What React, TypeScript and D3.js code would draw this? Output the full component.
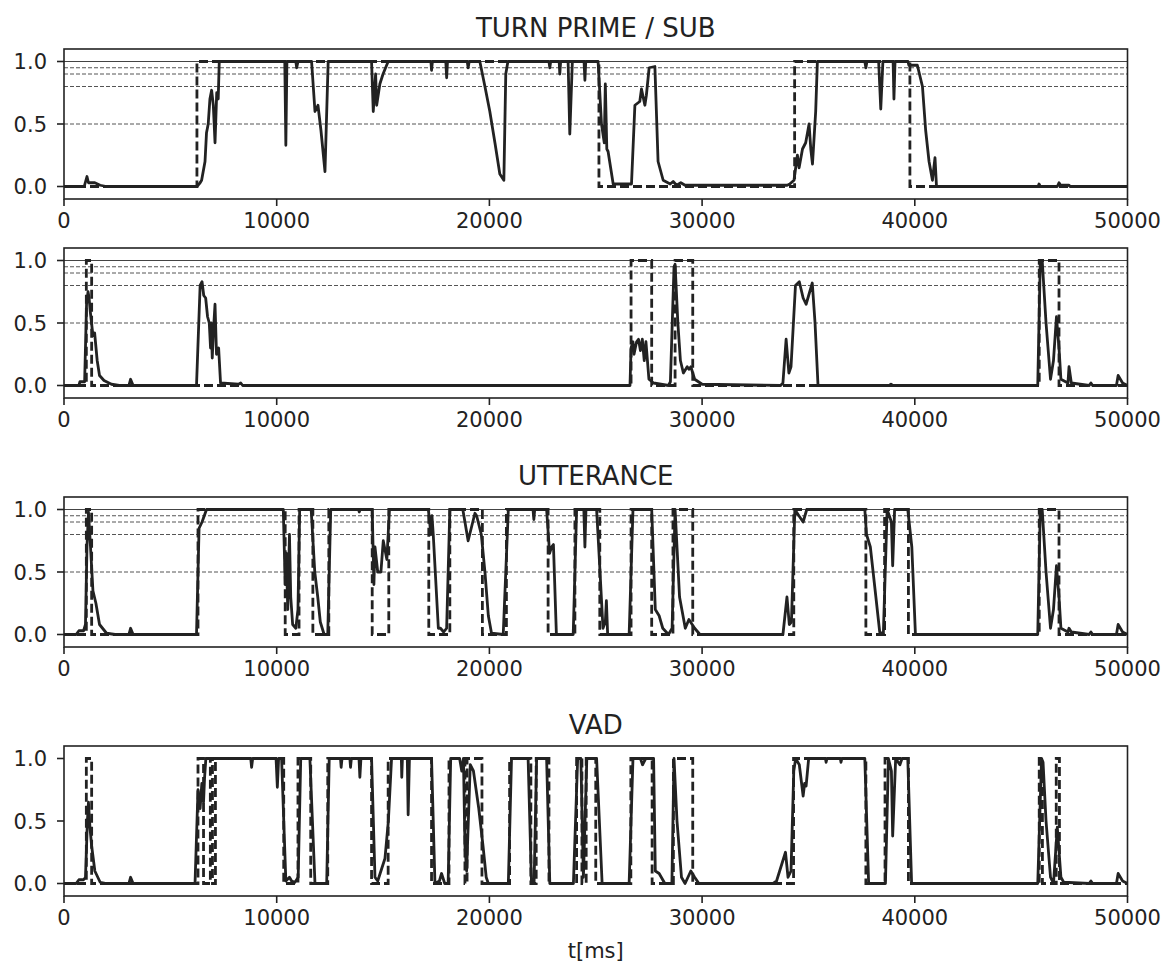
import React from "react";
import * as d3 from "d3";

// ---- data ----
const xTicks = [0, 10000, 20000, 30000, 40000, 50000];
const yTicks = [0, 0.5, 1.0];
const dashedLevels = [0.5, 0.8, 0.9, 0.95];
const solidLevels = [1.0];

// TURN PRIME: prediction (solid) and ground-truth "on" intervals (dashed)
const turnPred: [number, number][] = [
  [0, 0], [950, 0], [1080, 0.08], [1150, 0.03], [1450, 0.03], [1700, 0.01], [2000, 0],
  [6250, 0], [6400, 0.03], [6470, 0.05], [6630, 0.2], [6700, 0.43], [6780, 0.5], [6860, 0.7],
  [6940, 0.77], [7020, 0.65], [7100, 0.35], [7180, 0.75], [7250, 0.7], [7300, 1.0],
  [10380, 1.0], [10430, 0.33], [10480, 1.0], [10900, 1.0], [10940, 0.95], [11000, 1.0],
  [11640, 1.0], [11800, 0.6], [11940, 0.65], [12080, 0.45], [12270, 0.12], [12420, 1.0],
  [14460, 1.0], [14540, 0.6], [14650, 0.9], [14700, 0.65], [14850, 0.82], [15000, 0.9], [15240, 1.0],
  [17250, 1.0], [17280, 0.93], [17320, 1.0], [17950, 1.0], [17990, 0.87], [18030, 1.0],
  [18960, 1.0], [19000, 0.95], [19050, 1.0], [19550, 1.0], [19790, 0.8], [20020, 0.6],
  [20260, 0.35], [20490, 0.1], [20680, 0.05], [20770, 0.9], [20870, 1.0],
  [22800, 1.0], [22840, 0.95], [22880, 1.0], [23280, 1.0], [23310, 0.9], [23350, 1.0],
  [23700, 1.0], [23780, 0.42], [23900, 1.0], [24450, 1.0], [24490, 0.85], [24530, 1.0],
  [25110, 1.0], [25270, 0.5], [25400, 0.35], [25450, 0.82], [25520, 0.3], [25580, 0.28],
  [25820, 0.02], [26680, 0.02], [26840, 0.65], [27070, 0.68], [27150, 0.78], [27310, 0.65],
  [27380, 0.73], [27510, 0.95], [27780, 0.96], [27930, 0.2], [28170, 0.05], [28500, 0.02],
  [28640, 0.04], [28800, 0.01], [29000, 0.03], [29200, 0.01], [34000, 0.01], [34120, 0.02],
  [34320, 0.05], [34480, 0.25], [34560, 0.15], [34720, 0.3], [34870, 0.35], [35030, 0.5],
  [35110, 0.3], [35190, 0.18], [35340, 0.6], [35420, 1.0], [37650, 1.0], [37700, 0.95],
  [37750, 1.0], [38300, 1.0], [38400, 0.62], [38500, 1.0], [38980, 1.0], [39020, 0.7],
  [39070, 1.0], [39680, 1.0], [39720, 0.97], [40120, 0.97], [40360, 0.8], [40510, 0.45],
  [40670, 0.2], [40830, 0.05], [40950, 0.23], [41020, 0], [45800, 0], [45840, 0.02],
  [45900, 0], [46700, 0], [46780, 0.03], [46850, 0.01], [47250, 0.01], [47300, 0], [50000, 0],
];
const turnTruth: [number, number][] = [[6250, 25150], [34350, 39770]];

// SUB
const subPred: [number, number][] = [
  [0, 0], [700, 0], [750, 0.03], [970, 0.03], [1060, 0.65], [1130, 0.75], [1180, 0.7],
  [1230, 0.6], [1360, 0.4], [1440, 0.42], [1560, 0.2], [1670, 0.08], [1880, 0.04],
  [2230, 0.01], [2600, 0], [3050, 0], [3130, 0.05], [3250, 0], [6230, 0], [6400, 0.8],
  [6490, 0.83], [6570, 0.72], [6660, 0.7], [6750, 0.55], [6830, 0.5], [6890, 0.3],
  [6920, 0.5], [6970, 0.22], [7030, 0.45], [7100, 0.65], [7170, 0.25], [7270, 0.3],
  [7360, 0.02], [8200, 0.01], [8310, 0.02], [8400, 0], [26610, 0], [26660, 0.3],
  [26750, 0.35], [26800, 0.25], [26920, 0.35], [27010, 0.37], [27100, 0.28], [27190, 0.37],
  [27280, 0.2], [27360, 0.35], [27500, 0.05], [27720, 0.02], [28420, 0], [28510, 0.03],
  [28680, 0.95], [28730, 0.97], [28860, 0.5], [28980, 0.2], [29120, 0.1], [29300, 0.15],
  [29380, 0.13], [29470, 0.15], [29650, 0.05], [30000, 0.01], [33690, 0], [33800, 0.02],
  [33950, 0.37], [34080, 0.1], [34180, 0.15], [34390, 0.8], [34570, 0.83], [34750, 0.7],
  [34890, 0.65], [35180, 0.82], [35310, 0.5], [35450, 0], [38800, 0], [38880, 0.01],
  [38960, 0], [45780, 0], [45900, 1.0], [45990, 1.0], [46170, 0.5], [46380, 0.05],
  [46520, 0.2], [46660, 0.55], [46780, 0.3], [46870, 0.05], [47200, 0.02], [47250, 0.15],
  [47360, 0.02], [48200, 0], [48280, 0.02], [48360, 0], [49480, 0], [49560, 0.08],
  [49770, 0.02], [50000, 0],
];
const subTruth: [number, number][] = [[1050, 1300], [26660, 27630], [28730, 29560], [45850, 46780]];

// UTTERANCE
const uttPred: [number, number][] = [
  [0, 0], [570, 0], [700, 0.03], [920, 0.03], [1010, 0.08], [1080, 0.7], [1150, 0.98],
  [1230, 0.75], [1360, 0.35], [1500, 0.25], [1670, 0.08], [2000, 0.01], [2400, 0],
  [3050, 0], [3130, 0.05], [3250, 0], [6230, 0], [6350, 0.85], [6490, 0.9], [6700, 1.0],
  [10310, 1.0], [10400, 0.4], [10450, 0.65], [10520, 0.2], [10600, 0.8], [10660, 0.3],
  [10750, 0.08], [10900, 0.05], [11000, 0.2], [11080, 1.0], [11620, 1.0], [11790, 0.5],
  [11930, 0.3], [12050, 0.1], [12230, 0], [12400, 0], [12540, 1.0], [13850, 1.0],
  [13880, 0.98], [13920, 1.0], [14490, 1.0], [14570, 0.4], [14620, 0.7], [14750, 0.5],
  [14900, 0.5], [15010, 0.75], [15180, 0.6], [15300, 1.0], [17130, 1.0], [17250, 0.8],
  [17300, 0.95], [17360, 0.8], [17600, 0.05], [17700, 0.05], [17850, 0.02], [17990, 0.05],
  [18140, 1.0], [18750, 1.0], [19000, 0.75], [19320, 0.97], [19400, 0.95], [19620, 0.8],
  [19790, 0.5], [19950, 0.15], [20100, 0.01], [20650, 0], [20890, 1.0], [22050, 1.0],
  [22090, 0.92], [22130, 1.0], [22690, 1.0], [22830, 0.65], [22920, 0.7], [23010, 0.72],
  [23150, 0], [23940, 0], [24100, 1.0], [24440, 1.0], [24490, 0.7], [24540, 1.0],
  [25040, 1.0], [25170, 0.6], [25340, 0.05], [25450, 0.1], [25500, 0.27], [25560, 0],
  [26570, 0], [26750, 1.0], [27630, 1.0], [27800, 0.2], [27980, 0.15], [28150, 0.05],
  [28420, 0], [28590, 0.05], [28730, 1.0], [28940, 0.3], [29210, 0.05], [29380, 0.12],
  [29650, 0.05], [29900, 0], [33800, 0], [33990, 0.3], [34100, 0.08], [34200, 0.1],
  [34360, 1.0], [34550, 0.95], [34750, 0.9], [34920, 1.0], [37650, 1.0], [37730, 0.8],
  [37910, 0.7], [38170, 0.3], [38350, 0.02], [38520, 0], [38700, 1.0], [38900, 0.9],
  [38960, 0.55], [39050, 1.0], [39670, 1.0], [39860, 0.7], [40030, 0], [45780, 0],
  [45900, 1.0], [45990, 1.0], [46170, 0.5], [46380, 0.05], [46520, 0.2], [46660, 0.55],
  [46780, 0.3], [46870, 0.05], [47200, 0.02], [47250, 0.05], [47360, 0.02], [48200, 0],
  [48280, 0.02], [48360, 0], [49480, 0], [49560, 0.08], [49770, 0.02], [50000, 0],
];
const uttTruth: [number, number][] = [
  [1050, 1300], [6300, 10400], [11050, 11700], [12450, 14490], [15270, 17150],
  [18140, 19670], [20800, 22760], [24020, 25190], [26660, 27630], [28630, 29560],
  [34310, 37700], [38580, 39700], [45850, 46780],
];

// VAD
const vadPred: [number, number][] = [
  [0, 0], [570, 0], [700, 0.03], [920, 0.03], [1010, 0.05], [1100, 0.5], [1150, 0.65],
  [1220, 0.45], [1300, 0.3], [1450, 0.1], [1700, 0.01], [2000, 0], [3050, 0], [3130, 0.05],
  [3250, 0], [6160, 0], [6300, 0.75], [6400, 0.6], [6480, 0.8], [6560, 0.65], [6610, 0.85],
  [6670, 1.0], [8780, 1.0], [8820, 0.93], [8870, 1.0], [9970, 1.0], [10030, 0.77],
  [10090, 1.0], [10230, 1.0], [10430, 0.02], [10600, 0.05], [10700, 0.02], [10860, 0.01],
  [11010, 0.05], [11130, 1.0], [11560, 1.0], [11800, 0], [12350, 0], [12470, 1.0],
  [13000, 1.0], [13030, 0.93], [13070, 1.0], [13440, 1.0], [13470, 0.93], [13510, 1.0],
  [13870, 1.0], [13910, 0.85], [13960, 1.0], [14460, 1.0], [14620, 0.05], [14750, 0.02],
  [14900, 0.1], [15090, 0.2], [15250, 0.5], [15400, 1.0], [15860, 1.0], [15880, 0.85],
  [15910, 1.0], [16140, 1.0], [16180, 0.55], [16240, 1.0], [17280, 1.0], [17440, 0],
  [17650, 0.02], [17750, 0.08], [17900, 0], [18060, 0], [18180, 1.0], [18600, 1.0],
  [18700, 0.9], [18780, 1.0], [18850, 0.3], [18930, 0.1], [19100, 0.95], [19250, 0.9],
  [19500, 0.6], [19700, 0.3], [19850, 0.05], [19950, 0], [20890, 0], [21040, 1.0],
  [21820, 1.0], [21980, 0], [22100, 0], [22220, 1.0], [22690, 1.0], [22840, 0],
  [23950, 0], [24150, 1.0], [24300, 1.0], [24420, 0.05], [24580, 1.0], [25040, 1.0],
  [25300, 0], [26570, 0], [26750, 1.0], [27100, 1.0], [27200, 0.95], [27350, 1.0],
  [27720, 1.0], [27800, 0.1], [27980, 0.08], [28250, 0], [28580, 0], [28680, 1.0],
  [28820, 0.5], [29030, 0.05], [29200, 0], [29470, 0.1], [29650, 0.05], [29850, 0],
  [33340, 0], [33500, 0.02], [33920, 0.25], [34040, 0.05], [34180, 0.1], [34310, 0.9],
  [34400, 1.0], [34570, 0.95], [34750, 0.7], [34820, 0.8], [34890, 0.78], [35010, 1.0],
  [35800, 1.0], [35830, 0.97], [35870, 1.0], [36500, 1.0], [36530, 0.97], [36570, 1.0],
  [37650, 1.0], [37830, 0], [38620, 0], [38760, 1.0], [38900, 0.9], [38960, 0.38],
  [39100, 1.0], [39300, 0.95], [39400, 1.0], [39670, 1.0], [39850, 0], [45780, 0],
  [45960, 1.0], [46030, 0.97], [46170, 0.5], [46380, 0.05], [46520, 0], [46700, 0.45],
  [46870, 0.05], [47000, 0.01], [48200, 0], [48280, 0.02], [48360, 0], [49480, 0],
  [49560, 0.08], [49770, 0.02], [50000, 0],
];
const vadTruth: [number, number][] = [
  [1050, 1300], [6300, 6560], [6880, 6980], [7120, 10330], [11000, 11600], [12400, 14460],
  [15240, 17280], [18100, 18850], [18950, 19650], [20950, 21950], [22200, 22800],
  [24100, 24350], [24550, 25000], [26650, 27650], [28650, 29560], [34300, 37700],
  [38600, 39700], [45850, 46000], [46650, 46800],
];

const titles = ["TURN PRIME / SUB", "", "UTTERANCE", "VAD"];
const preds = [turnPred, subPred, uttPred, vadPred];
const truths = [turnTruth, subTruth, uttTruth, vadTruth];
const showRefs = [true, true, true, false];

// ---- layout ----
const W = 1166;
const H = 965;
const left = 64;
const right = 1127.5;
const panelTops = [49, 248, 497, 746];
const panelH = 150;
const ink = "#222222";
const font = "DejaVu Sans, sans-serif";

// turn on/off intervals into a step series
function stepSeries(segs: [number, number][]): [number, number][] {
  const pts: [number, number][] = [[0, 0]];
  segs.forEach(([s, e]) => {
    pts.push([s, 0], [s, 1], [e, 1], [e, 0]);
  });
  pts.push([50000, 0]);
  return pts;
}

function Panel({ idx }: { idx: number }) {
  const top = panelTops[idx];
  const x = d3.scaleLinear().domain([0, 50000]).range([left, right]);
  const y = d3.scaleLinear().domain([-0.1, 1.1]).range([top + panelH, top]);
  const line = d3
    .line<[number, number]>()
    .x((d) => x(d[0]))
    .y((d) => y(d[1]));

  const bottom = top + panelH;
  return (
    <g>
      {titles[idx] && (
        <text x={(left + right) / 2} y={top - 12} textAnchor="middle" fontSize={26} fill={ink}>
          {titles[idx]}
        </text>
      )}
      {showRefs[idx] &&
        dashedLevels.map((v) => (
          <line key={"d" + v} x1={left} x2={right} y1={y(v)} y2={y(v)}
            stroke="#555" strokeWidth={1} strokeDasharray="4 2" />
        ))}
      {showRefs[idx] &&
        solidLevels.map((v) => (
          <line key={"s" + v} x1={left} x2={right} y1={y(v)} y2={y(v)} stroke="#444" strokeWidth={1} />
        ))}
      <path d={line(preds[idx]) || ""} fill="none" stroke={ink} strokeWidth={2.8} strokeLinejoin="round" />
      <path d={line(stepSeries(truths[idx])) || ""} fill="none" stroke={ink} strokeWidth={2.8}
        strokeDasharray="9 4" />
      <rect x={left} y={top} width={right - left} height={panelH} fill="none" stroke={ink} strokeWidth={1.6} />
      {xTicks.map((t) => (
        <g key={"x" + t}>
          <line x1={x(t)} x2={x(t)} y1={bottom} y2={bottom + 7} stroke={ink} strokeWidth={1.6} />
          <text x={x(t)} y={bottom + 29} textAnchor="middle" fontSize={21} fill={ink}>
            {t}
          </text>
        </g>
      ))}
      {yTicks.map((v) => (
        <g key={"y" + v}>
          <line x1={left - 7} x2={left} y1={y(v)} y2={y(v)} stroke={ink} strokeWidth={1.6} />
          <text x={left - 17} y={y(v) + 7.5} textAnchor="end" fontSize={21} fill={ink}>
            {v.toFixed(1)}
          </text>
        </g>
      ))}
    </g>
  );
}

export default function App() {
  return (
    <svg width={W} height={H} style={{ position: "absolute", left: 0, top: 0, background: "#fff" }}
      fontFamily={font}>
      <rect width={W} height={H} fill="#fff" />
      {panelTops.map((_, i) => (
        <Panel key={i} idx={i} />
      ))}
      <text x={(left + right) / 2} y={958} textAnchor="middle" fontSize={21} fill={ink}>
        t[ms]
      </text>
    </svg>
  );
}
